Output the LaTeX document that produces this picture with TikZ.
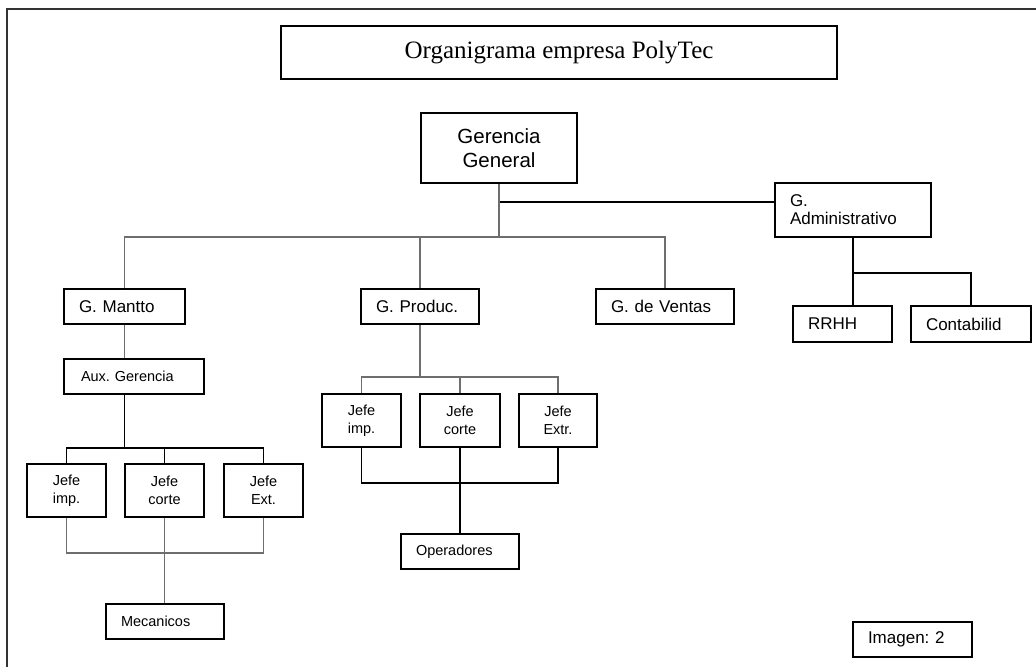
\documentclass[tikz,border=0pt]{standalone}
\usepackage{fontspec}
\setmainfont{Liberation Serif}
\newfontfamily\arialf{Liberation Sans}
\usetikzlibrary{calc}
\frenchspacing
\definecolor{lgray}{HTML}{6E6E6E}
\tikzset{
  box/.style={draw=black, line width=1.5pt, inner xsep=15pt, inner ysep=0pt, align=left, font=\arialf\fontsize{17}{18}\selectfont},
  sbox/.style={box, font=\arialf\fontsize{14.5}{18}\selectfont},
  jbox/.style={draw=black, line width=1.5pt, inner sep=0pt, align=center, font=\arialf\fontsize{14.5}{18}\selectfont},
  blk/.style={draw=black, line width=1.6pt},
  gry/.style={draw=lgray, line width=1.8pt},
}
\begin{document}
\begin{tikzpicture}[x=1pt,y=-1pt]
\useasboundingbox (0,0) rectangle (1036,667);
% outer frame
\coordinate (fbl) at (7,667);
\coordinate (ftl) at (7,9);
\coordinate (ftr) at (1036,9);
\draw[line width=2pt, draw=black!80] (fbl) -- (ftl) -- (ftr);

% title
\node[draw=black, line width=1.5pt, minimum width=556pt, minimum height=53pt, inner sep=0pt,
      font=\fontsize{25}{27}\selectfont] (title) at (559,52.5) {Organigrama empresa PolyTec};

% top
\node[jbox, minimum width=156pt, minimum height=70pt, font=\arialf\fontsize{20.5}{24}\selectfont] (gg) at (499,148) {Gerencia\\General};
\node[box, text width=126pt, minimum height=54pt] (adm) at (853,210) {G.\\Administrativo};

% second level
\node[box, text width=91pt, minimum height=35pt] (mantto) at (124.5,306.5) {G. Mantto};
\node[box, text width=88pt, minimum height=35pt] (produc) at (420,306.5) {G. Produc.};
\node[box, text width=108pt, minimum height=35pt] (ventas) at (665,306.5) {G. de Ventas};
\node[box, text width=69pt, minimum height=36pt] (rrhh) at (842.5,324) {RRHH};
\node[box, text width=90pt, minimum height=36pt] (conta) at (971,324) {Contabilid};

% maintenance branch
\node[sbox, text width=106pt, minimum height=35pt, inner xsep=17pt] (aux) at (134,376.5) {Aux. Gerencia};
\node[jbox, minimum width=79pt, minimum height=53pt] (j1) at (66.5,490.5) {Jefe\\imp.};
\node[jbox, minimum width=79pt, minimum height=53pt] (j2) at (164.5,490.5) {Jefe\\corte};
\node[jbox, minimum width=79pt, minimum height=53pt] (j3) at (263.5,490.5) {Jefe\\Ext.};
\node[sbox, text width=88pt, minimum height=35pt] (mec) at (165,621.5) {Mecanicos};

% production branch
\node[jbox, minimum width=79pt, minimum height=53pt] (pj1) at (361.5,420.5) {Jefe\\imp.};
\node[jbox, minimum width=80pt, minimum height=53pt] (pj2) at (460,420.5) {Jefe\\corte};
\node[jbox, minimum width=78pt, minimum height=53pt] (pj3) at (558,420.5) {Jefe\\Extr.};
\node[sbox, text width=88pt, minimum height=35pt] (oper) at (460,551.5) {Operadores};

% caption
\node[box, text width=89pt, minimum height=35pt] (img) at (912.5,639.5) {Imagen: 2};

% connectors: top
\coordinate (ga) at ($(gg.south)+(0,18)$);
\coordinate (b1) at ($(gg.south)+(0,53)$);
\draw[blk] (ga) -- (ga -| adm.west);
\draw[gry] (gg.south) -- (b1);
\draw[gry] (mantto.north) |- (b1) -| (ventas.north);
\draw[gry] (produc.north) -- (produc.north |- b1);

% admin
\coordinate (ab2) at ($(adm.south)+(0,35)$);
\draw[blk] (adm.south) -- (adm.south |- rrhh.north);
\draw[blk] (ab2) -| (conta.north);

% maintenance
\draw[gry] (mantto.south) -- (mantto.south |- aux.north);
\coordinate (as) at (mantto.south |- aux.south);
\coordinate (ab) at ($(as)+(0,53)$);
\draw[blk] (as) -- (ab);
\draw[blk] (j1.north) |- (ab) -| (j3.north);
\draw[blk] (j2.north) -- (j2.north |- ab);
\coordinate (mb) at ($(j2.south)+(0,35)$);
\draw[gry] (j1.south) |- (mb) -| (j3.south);
\draw[gry] (j2.south) -- (j2.south |- mec.north);

% production
\coordinate (pb) at ($(produc.south)+(0,52)$);
\draw[gry] (produc.south) -- (pb);
\draw[gry] (pj1.north) |- (pb) -| (pj3.north);
\draw[gry] (pj2.north) -- (pj2.north |- pb);
\coordinate (ob) at ($(pj2.south)+(0,35)$);
\draw[blk] (pj1.south) |- (ob) -| (pj3.south);
\draw[blk] (pj2.south) -- (pj2.south |- oper.north);
\end{tikzpicture}
\end{document}
